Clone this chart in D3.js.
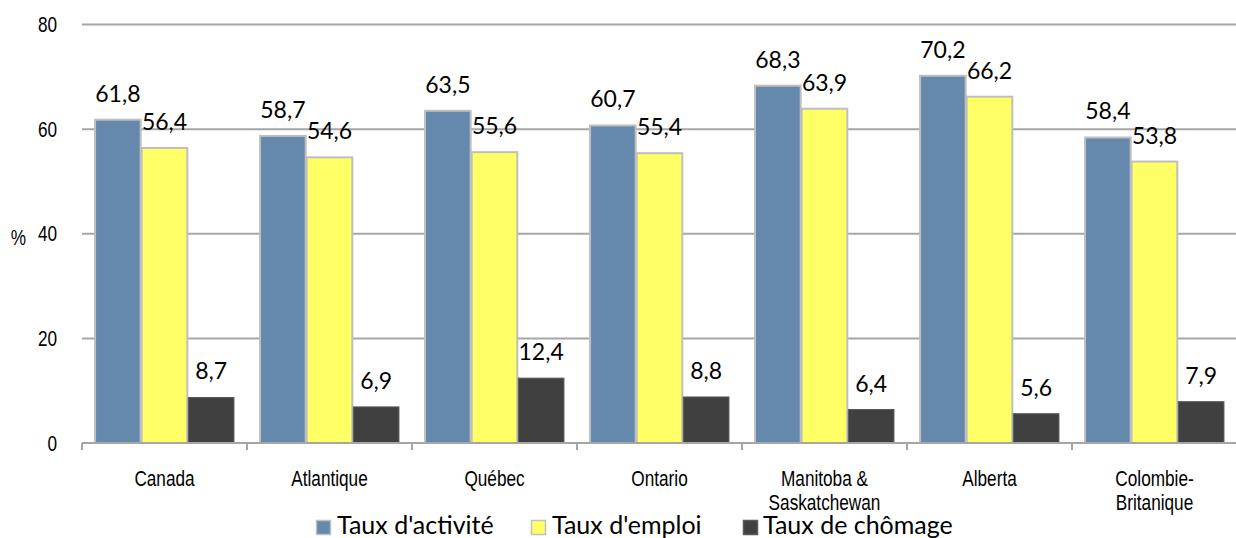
<!DOCTYPE html>
<html>
<head>
<meta charset="utf-8">
<script src="https://cdn.jsdelivr.net/npm/d3@7"></script>
<style>
  html, body { margin: 0; padding: 0; background: #fff; }
  svg { display: block; }
  .tick-label { font-family: "Liberation Sans", Arial, sans-serif; font-size: 21.5px; fill: #000; }
  .value-label { font-family: Lato, "Open Sans", sans-serif; font-size: 23px; fill: #000; }
  .legend-label { font-family: Lato, "Open Sans", sans-serif; font-size: 25px; fill: #000; }
</style>
</head>
<body>
<svg id="chart" width="1236" height="538"></svg>
<script>
// Régions et taux (%)
const categories = [
  ["Canada"],
  ["Atlantique"],
  ["Québec"],
  ["Ontario"],
  ["Manitoba &", "Saskatchewan"],
  ["Alberta"],
  ["Colombie-", "Britanique"]
];
const seriesNames = ["Taux d'activité", "Taux d'emploi", "Taux de chômage"];
const tauxActivite = [61.8, 58.7, 63.5, 60.7, 68.3, 70.2, 58.4];
const tauxEmploi   = [56.4, 54.6, 55.6, 55.4, 63.9, 66.2, 53.8];
const tauxChomage  = [8.7, 6.9, 12.4, 8.8, 6.4, 5.6, 7.9];
const yTicks = [0, 20, 40, 60, 80];

const seriesValues = [tauxActivite, tauxEmploi, tauxChomage];
const colors = ["#6589AD", "#FFFF66", "#404040"];
const strokes = ["#BFBFBF", "#BFBFBF", "#5A5A5A"];

// Compression horizontale des libellés d'axe (police étroite)
const narrow = 0.8;

const svg = d3.select("#chart");
const plotLeft = 82, plotRight = 1237, plotTop = 24.5, plotBottom = 443;

const catKeys = categories.map(c => c.join(" "));
const x0 = d3.scaleBand().domain(catKeys).range([plotLeft, plotRight]).padding(0);
const bw = x0.bandwidth();
const pad = bw * 0.076;
const x1 = d3.scaleBand().domain(seriesNames).range([pad, bw - pad]).padding(0);
const y = d3.scaleLinear().domain([0, 80]).range([plotBottom, plotTop]);

const fr = d3.formatLocale({ decimal: ",", thousands: " ", grouping: [3], currency: ["", " $"] });
const fmt = fr.format(".1f");

// Quadrillage horizontal
svg.append("g")
  .selectAll("line")
  .data(yTicks.filter(t => t > 0))
  .join("line")
  .attr("x1", plotLeft).attr("x2", 1236)
  .attr("y1", d => y(d)).attr("y2", d => y(d))
  .attr("stroke", "#A6A6A6").attr("stroke-width", 2);

// Étiquettes de l'axe vertical
svg.append("g")
  .selectAll("text")
  .data(yTicks)
  .join("text")
  .attr("class", "tick-label")
  .attr("transform", d => `translate(57,${y(d)}) scale(${narrow},1)`)
  .attr("dy", "0.36em")
  .attr("text-anchor", "end")
  .text(d => d);

svg.append("text")
  .attr("class", "tick-label")
  .attr("transform", `translate(18.5,${y(40)}) scale(${narrow},1)`)
  .attr("dy", "0.5em")
  .attr("text-anchor", "middle")
  .text("%");

// Barres
const groups = svg.append("g")
  .selectAll("g")
  .data(catKeys)
  .join("g")
  .attr("transform", d => `translate(${x0(d)},0)`);

groups.each(function(cat, i) {
  const g = d3.select(this);
  seriesNames.forEach((s, j) => {
    const v = seriesValues[j][i];
    g.append("rect")
      .attr("x", x1(s) + 0.5)
      .attr("y", y(v))
      .attr("width", x1.bandwidth() - 1)
      .attr("height", y(0) - y(v))
      .attr("fill", colors[j])
      .attr("stroke", strokes[j])
      .attr("stroke-width", j < 2 ? 2 : 1);
    g.append("text")
      .attr("class", "value-label")
      .attr("x", x1(s) + x1.bandwidth() / 2)
      .attr("y", y(v) - 18)
      .attr("text-anchor", "middle")
      .text(fmt(v));
  });
});

// Axe horizontal
const axisG = svg.append("g");
axisG.append("line")
  .attr("x1", plotLeft).attr("x2", 1236)
  .attr("y1", plotBottom).attr("y2", plotBottom)
  .attr("stroke", "#A6A6A6").attr("stroke-width", 2);
axisG.selectAll("line.tk")
  .data(catKeys.concat(["end"]))
  .join("line")
  .attr("class", "tk")
  .attr("x1", (d, i) => i < catKeys.length ? x0(d) : plotRight)
  .attr("x2", (d, i) => i < catKeys.length ? x0(d) : plotRight)
  .attr("y1", plotBottom).attr("y2", plotBottom + 7)
  .attr("stroke", "#A6A6A6").attr("stroke-width", 2);

// Libellés des catégories
const catLabels = svg.append("g")
  .selectAll("text")
  .data(categories)
  .join("text")
  .attr("class", "tick-label")
  .attr("transform", (d, i) => `translate(${x0(catKeys[i]) + bw / 2},486) scale(${narrow},1)`)
  .attr("text-anchor", "middle");
catLabels.selectAll("tspan")
  .data(d => d)
  .join("tspan")
  .attr("x", 0)
  .attr("dy", (d, i) => i === 0 ? 0 : 24)
  .text(d => d);

// Légende
const legendPos = [316, 531, 743];
const legend = svg.append("g")
  .selectAll("g")
  .data(seriesNames)
  .join("g")
  .attr("transform", (d, i) => `translate(${legendPos[i]},520)`);
legend.append("rect")
  .attr("x", 0.5).attr("y", 0.5)
  .attr("width", 14).attr("height", 14)
  .attr("fill", (d, i) => colors[i])
  .attr("stroke", (d, i) => strokes[i])
  .attr("stroke-width", 1.5);
legend.append("text")
  .attr("class", "legend-label")
  .attr("x", (d, i) => i === 2 ? 20 : 21)
  .attr("y", 14)
  .text(d => d);
</script>
</body>
</html>
